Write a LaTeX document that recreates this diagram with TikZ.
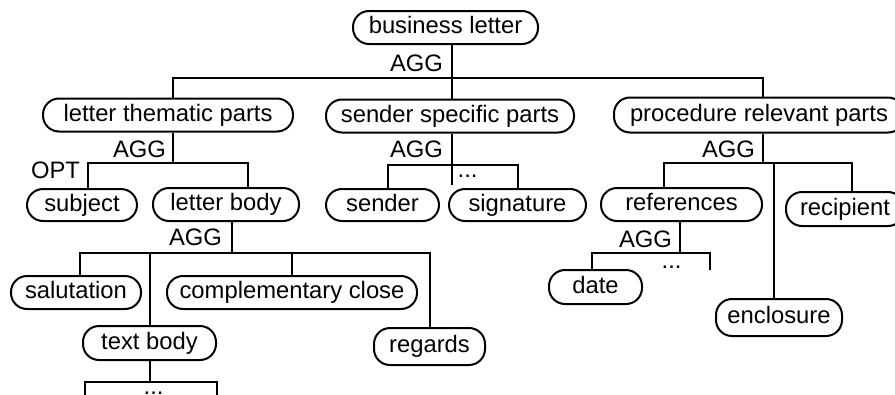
\documentclass[tikz,border=0pt]{standalone}
\usepackage{fontspec}
\setmainfont{Liberation Sans}
\usepackage{tikz}

\begin{document}
\begin{tikzpicture}[x=1pt,y=-1pt,line width=2pt,font=\fontsize{23.8}{28}\selectfont,
  box/.style={draw,rounded corners=16pt,inner sep=0pt,text height=17pt,text depth=5pt,minimum height=33pt},
  tag/.style={anchor=base east,inner sep=0pt},
  more/.style={anchor=base west,inner sep=0pt}]
\useasboundingbox (0,0) rectangle (895,394);
% part nodes
\node[box,minimum width=185pt] (bl) at (445.5,27.5) {business letter};
\node[box,minimum width=250pt] (ltp) at (168,115) {letter thematic parts};
\node[box,minimum width=248pt] (ssp) at (450,116) {sender specific parts};
\node[box,minimum width=290pt,minimum height=35pt] (prp) at (759,115) {procedure relevant parts};
\node[box,minimum width=110pt,minimum height=32pt] (subj) at (82,205) {subject};
\node[box,minimum width=146pt] (lb) at (226,204.5) {letter body};
\node[box,minimum width=113pt,minimum height=32pt] (snd) at (382.5,205) {sender};
\node[box,minimum width=137pt,minimum height=32pt] (sig) at (517.5,205) {signature};
\node[box,minimum width=161pt] (refs) at (681.5,204.5) {references};
\node[box,minimum width=118pt,minimum height=34pt] (rcp) at (845,209) {recipient};
\node[box,minimum width=130pt] (sal) at (76,292.5) {salutation};
\node[box,minimum width=250pt] (cc) at (292,292.5) {complementary close};
\node[box,minimum width=93pt,minimum height=34pt] (date) at (595.5,287) {date};
\node[box,minimum width=133pt,minimum height=34pt] (tb) at (149.5,343) {text body};
\node[box,minimum width=111pt,minimum height=37pt] (reg) at (429.5,346.5) {regards};
\node[box,minimum width=126pt,minimum height=37pt] (encl) at (779,317.5) {enclosure};
% bar junctions and open ends
\coordinate (j0) at (452,78);
\coordinate (j1) at (173,163);
\coordinate (j2) at (452,165);
\coordinate (j3) at (763,163);
\coordinate (j4) at (232,253);
\coordinate (j5) at (680,253);
\coordinate (j6) at (149.5,382);
\coordinate (e2) at (452,185);
\coordinate (e5) at (710,270);
\coordinate (e6l) at (85,400);
\coordinate (e6r) at (217,400);
% aggregation bars
\draw (bl.south -| j0) -- (j0) -| ([xshift=5pt]ltp.north);
\draw (j0) -- (ssp.north -| j0);
\draw (j0) -| ([xshift=4pt]prp.north);
\draw (ltp.south -| j1) -- (j1) -| ([xshift=6pt]subj.north);
\draw (j1) -| ([xshift=22pt]lb.north);
\draw (ssp.south -| j2) -- (j2) -- (e2);
\draw (j2) -| ([xshift=5.5pt]snd.north);
\draw (j2) -| (sig.north);
\draw (prp.south -| j3) -- (j3) -| ([xshift=-17.5pt]refs.north);
\draw (j3) -| ([xshift=-5pt]encl.north);
\draw (j3) -| ([xshift=7pt]rcp.north);
\draw (lb.south -| j4) -- (j4) -| ([xshift=4pt]sal.north);
\draw (j4) -| (tb.north);
\draw (j4) -| (cc.north);
\draw (j4) -| (reg.north);
\draw (refs.south -| j5) -- (j5) -| ([xshift=-3.5pt]date.north);
\draw (j5) -| (e5);
\draw (tb.south -| j6) -- (j6) -| (e6l);
\draw (j6) -| (e6r);
% relation labels
\foreach \xp/\yp [count=\i] in {444/71,167/157,444/157,756/157,223/245,673/247}{\node[tag] (agg\i) at (\xp,\yp) {AGG};}
\node[tag] (opt) at (81,178) {OPT};
\foreach \xp/\yp [count=\i] in {456.7/177.5,660.7/268.5,142.7/394.5}{\node[more] (dots\i) at (\xp,\yp) {...};}
\end{tikzpicture}
\end{document}
